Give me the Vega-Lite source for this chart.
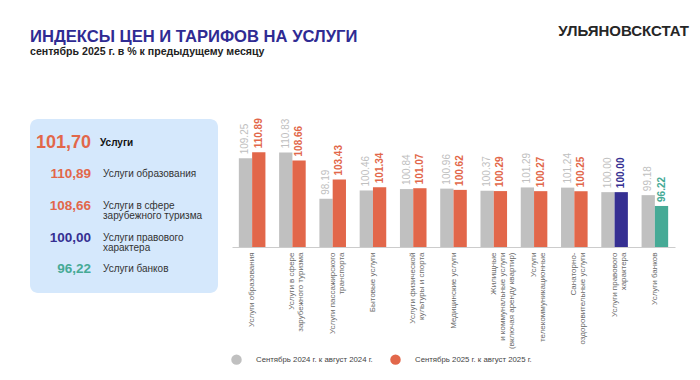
{
  "$schema": "https://vega.github.io/schema/vega-lite/v6.json",
  "padding": {"left": 30, "top": 24, "right": 10, "bottom": 5},
  "config": {"font": "Liberation Sans", "view": {"stroke": null}},
  "bounds": "flush",
  "spacing": 14,
  "datasets": {
    "bars": [
      {"cat": "Услуги образования", "period": "2024", "v": 109.25, "grp": "Сентябрь 2024 г. к август 2024 г."},
      {"cat": "Услуги образования", "period": "2025", "v": 110.89, "grp": "Сентябрь 2025 г. к август 2025 г."},
      {"cat": "Услуги в сфере|зарубежного туризма", "period": "2024", "v": 110.83, "grp": "Сентябрь 2024 г. к август 2024 г."},
      {"cat": "Услуги в сфере|зарубежного туризма", "period": "2025", "v": 108.66, "grp": "Сентябрь 2025 г. к август 2025 г."},
      {"cat": "Услуги пассажирского|транспорта", "period": "2024", "v": 98.19, "grp": "Сентябрь 2024 г. к август 2024 г."},
      {"cat": "Услуги пассажирского|транспорта", "period": "2025", "v": 103.43, "grp": "Сентябрь 2025 г. к август 2025 г."},
      {"cat": "Бытовые услуги", "period": "2024", "v": 100.46, "grp": "Сентябрь 2024 г. к август 2024 г."},
      {"cat": "Бытовые услуги", "period": "2025", "v": 101.34, "grp": "Сентябрь 2025 г. к август 2025 г."},
      {"cat": "Услуги физической|культуры и спорта", "period": "2024", "v": 100.84, "grp": "Сентябрь 2024 г. к август 2024 г."},
      {"cat": "Услуги физической|культуры и спорта", "period": "2025", "v": 101.07, "grp": "Сентябрь 2025 г. к август 2025 г."},
      {"cat": "Медицинские услуги", "period": "2024", "v": 100.96, "grp": "Сентябрь 2024 г. к август 2024 г."},
      {"cat": "Медицинские услуги", "period": "2025", "v": 100.62, "grp": "Сентябрь 2025 г. к август 2025 г."},
      {"cat": "Жилищные|и коммунальные услуги|(включая аренду квартир)", "period": "2024", "v": 100.37, "grp": "Сентябрь 2024 г. к август 2024 г."},
      {"cat": "Жилищные|и коммунальные услуги|(включая аренду квартир)", "period": "2025", "v": 100.29, "grp": "Сентябрь 2025 г. к август 2025 г."},
      {"cat": "Услуги|телекоммуникационные", "period": "2024", "v": 101.29, "grp": "Сентябрь 2024 г. к август 2024 г."},
      {"cat": "Услуги|телекоммуникационные", "period": "2025", "v": 100.27, "grp": "Сентябрь 2025 г. к август 2025 г."},
      {"cat": "Санаторно-|оздоровительные услуги", "period": "2024", "v": 101.24, "grp": "Сентябрь 2024 г. к август 2024 г."},
      {"cat": "Санаторно-|оздоровительные услуги", "period": "2025", "v": 100.25, "grp": "Сентябрь 2025 г. к август 2025 г."},
      {"cat": "Услуги правового|характера", "period": "2024", "v": 100.00, "grp": "Сентябрь 2024 г. к август 2024 г."},
      {"cat": "Услуги правового|характера", "period": "2025", "v": 100.00, "grp": "право"},
      {"cat": "Услуги банков", "period": "2024", "v": 99.18, "grp": "Сентябрь 2024 г. к август 2024 г."},
      {"cat": "Услуги банков", "period": "2025", "v": 96.22, "grp": "банки"}
    ],
    "panel": [
      {"rank": 1, "val": "101,70", "label": "Услуги", "grp": "Сентябрь 2025 г. к август 2025 г."},
      {"rank": 2, "val": "110,89", "label": "Услуги образования", "grp": "Сентябрь 2025 г. к август 2025 г."},
      {"rank": 3, "val": "108,66", "label": "Услуги в сфере|зарубежного туризма", "grp": "Сентябрь 2025 г. к август 2025 г."},
      {"rank": 4, "val": "100,00", "label": "Услуги правового|характера", "grp": "право"},
      {"rank": 5, "val": "96,22", "label": "Услуги банков", "grp": "банки"}
    ]
  },
  "resolve": {"scale": {"color": "shared"}, "legend": {"color": "independent"}},
  "hconcat": [
    {
      "width": 188,
      "height": 174,
      "view": {"fill": "#d5e8fc", "cornerRadius": 8, "stroke": null},
      "title": {
        "text": "ИНДЕКСЫ ЦЕН И ТАРИФОВ НА УСЛУГИ",
        "subtitle": "сентябрь 2025 г. в % к предыдущему месяцу",
        "anchor": "start",
        "frame": "group",
        "fontSize": 16.6,
        "fontWeight": "bold",
        "color": "#2f2b93",
        "subtitleFontSize": 10.6,
        "subtitleFontWeight": "bold",
        "subtitleColor": "#222222",
        "subtitlePadding": 2,
        "offset": 61
      },
      "data": {"name": "panel"},
      "encoding": {
        "y": {"field": "rank", "type": "ordinal", "scale": {"type": "point", "padding": 0.75}, "axis": null}
      },
      "layer": [
        {
          "transform": [{"filter": "datum.rank == 1"}],
          "mark": {"type": "text", "align": "right", "baseline": "middle", "dx": -33, "fontWeight": "bold", "fontSize": 18},
          "encoding": {
            "text": {"field": "val"},
            "color": {"field": "grp", "type": "nominal", "legend": null}
          }
        },
        {
          "transform": [{"filter": "datum.rank > 1"}],
          "mark": {"type": "text", "align": "right", "baseline": "middle", "dx": -33, "fontWeight": "bold", "fontSize": 13.5},
          "encoding": {
            "text": {"field": "val"},
            "color": {"field": "grp", "type": "nominal", "legend": null}
          }
        },
        {
          "transform": [{"filter": "datum.rank == 1"}],
          "mark": {"type": "text", "align": "left", "baseline": "middle", "dx": -24, "fontWeight": "bold", "fontSize": 10, "color": "#111111"},
          "encoding": {"text": {"field": "label"}}
        },
        {
          "transform": [{"filter": "datum.rank > 1"}],
          "mark": {"type": "text", "align": "left", "baseline": "middle", "dx": -21, "fontSize": 10, "color": "#333333", "lineBreak": "|", "lineHeight": 10},
          "encoding": {"text": {"field": "label"}}
        }
      ]
    },
    {
      "width": 443,
      "height": 128,
      "title": {
        "text": "УЛЬЯНОВСКСТАТ",
        "anchor": "end",
        "frame": "group",
        "fontSize": 15,
        "fontWeight": "bold",
        "color": "#262626",
        "offset": 79,
        "dx": 14
      },
      "data": {"name": "bars"},
      "encoding": {
        "x": {
          "field": "cat",
          "type": "nominal",
          "sort": null,
          "scale": {"paddingInner": 0.34, "paddingOuter": 0.17},
          "axis": {
            "title": null,
            "labelAngle": -90,
            "labelAlign": "right",
            "labelBaseline": "middle",
            "labelExpr": "split(datum.label, '|')",
            "labelFontSize": 8,
            "labelColor": "#6a6a6a",
            "labelLineHeight": 9,
            "labelPadding": 5,
            "ticks": false,
            "domainColor": "#cccccc",
            "labelLimit": 200
          }
        },
        "xOffset": {"field": "period", "type": "nominal"},
        "y": {"field": "v", "type": "quantitative", "scale": {"domain": [85, 120], "nice": false, "zero": false, "clamp": true}, "axis": null}
      },
      "layer": [
        {
          "mark": {"type": "bar"},
          "encoding": {
            "color": {
              "field": "grp",
              "type": "nominal",
              "scale": {
                "domain": ["Сентябрь 2024 г. к август 2024 г.", "Сентябрь 2025 г. к август 2025 г.", "право", "банки"],
                "range": ["#c0c0c0", "#e2674a", "#352f92", "#46aa96"]
              },
              "legend": {
                "values": ["Сентябрь 2024 г. к август 2024 г.", "Сентябрь 2025 г. к август 2025 г."],
                "title": null,
                "orient": "none",
                "direction": "horizontal",
                "legendX": -1,
                "legendY": 235,
                "symbolType": "circle",
                "symbolSize": 110,
                "symbolStrokeWidth": 0,
                "labelFontSize": 7.8,
                "labelColor": "#444444",
                "labelOffset": 14,
                "columnPadding": 17
              }
            }
          }
        },
        {
          "transform": [{"filter": "datum.period == '2024'"}],
          "mark": {"type": "text", "angle": 270, "align": "left", "baseline": "middle", "dx": 4, "fontSize": 10},
          "encoding": {
            "text": {"field": "v", "type": "quantitative", "format": ".2f"},
            "color": {"field": "grp", "type": "nominal", "legend": null}
          }
        },
        {
          "transform": [{"filter": "datum.period == '2025'"}],
          "mark": {"type": "text", "angle": 270, "align": "left", "baseline": "middle", "dx": 4, "fontSize": 10, "fontWeight": "bold"},
          "encoding": {
            "text": {"field": "v", "type": "quantitative", "format": ".2f"},
            "color": {"field": "grp", "type": "nominal", "legend": null}
          }
        }
      ]
    }
  ]
}
